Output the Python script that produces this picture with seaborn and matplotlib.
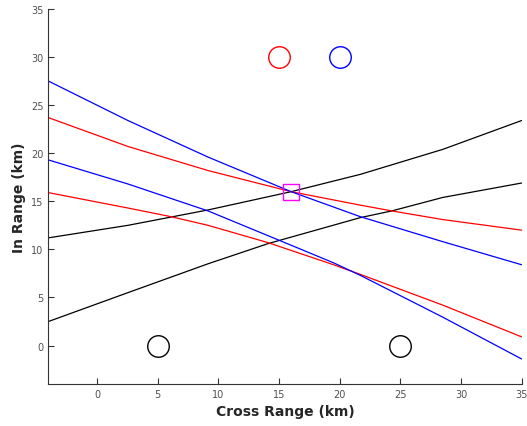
import matplotlib
matplotlib.use("Agg")
import matplotlib.pyplot as plt
import seaborn as sns
import pandas as pd

# Curves (x in km, y in km)
black_up_x = [-4, 2.55, 9.15, 16.0, 21.7, 28.5, 35]
black_up_y = [11.2, 12.5, 14.1, 16.0, 17.8, 20.4, 23.4]
black_lo_x = [-4, 2.55, 9.15, 14.1, 21.7, 24.3, 28.5, 35]
black_lo_y = [2.5, 5.5, 8.5, 10.6, 13.3, 14.0, 15.4, 16.9]
red_up_x = [-4, 2.55, 9.15, 16.0, 21.7, 24.3, 28.5, 35]
red_up_y = [23.7, 20.7, 18.2, 16.0, 14.6, 14.0, 13.1, 12.0]
red_lo_x = [-4, 2.55, 6.1, 9.15, 14.1, 19.5, 21.7, 28.5, 35]
red_lo_y = [15.9, 14.3, 13.4, 12.5, 10.7, 8.4, 7.4, 4.2, 0.9]
blue_up_x = [-4, 2.55, 9.15, 16.0, 21.7, 28.5, 35]
blue_up_y = [27.5, 23.4, 19.6, 16.0, 13.4, 10.8, 8.4]
blue_lo_x = [-4, 2.55, 9.15, 15.1, 19.5, 21.7, 28.5, 35]
blue_lo_y = [19.3, 16.8, 14.0, 10.9, 8.6, 7.3, 2.95, -1.4]

# Sensors and estimate
sensor_x = [5, 25, 15, 20]
sensor_y = [0, 0, 30, 30]
sensor_c = ["black", "black", "red", "blue"]
est_x = [16.0]
est_y = [16.0]

sns.set_style("ticks")
plt.rcParams["font.family"] = ["DejaVu Sans"]

fig = plt.figure(figsize=(5.27, 4.27), dpi=100)
ax = fig.add_axes([0.092, 0.0984, 0.8978, 0.8782])

curves = [
    (black_up_x, black_up_y, "black"),
    (black_lo_x, black_lo_y, "black"),
    (red_up_x, red_up_y, "red"),
    (red_lo_x, red_lo_y, "red"),
    (blue_up_x, blue_up_y, "blue"),
    (blue_lo_x, blue_lo_y, "blue"),
]
for xs, ys, c in curves:
    df = pd.DataFrame({"x": xs, "y": ys})
    sns.lineplot(data=df, x="x", y="y", color=c, linewidth=0.9, sort=False, ax=ax)

for sx, sy, c in zip(sensor_x, sensor_y, sensor_c):
    ax.plot([sx], [sy], marker="o", markersize=15.5, markerfacecolor="none",
            markeredgecolor=c, markeredgewidth=1.0, linestyle="none")

ax.plot(est_x, est_y, marker="s", markersize=12, markerfacecolor="none",
        markeredgecolor="magenta", markeredgewidth=1.0, linestyle="none")

ax.set_xlim(-4, 35)
ax.set_ylim(-4, 35)
ax.set_xticks([0, 5, 10, 15, 20, 25, 30, 35])
ax.set_yticks([0, 5, 10, 15, 20, 25, 30, 35])
ax.tick_params(direction="in", length=4, width=0.8, labelsize=7,
               labelcolor="#505050", color="#333333")
ax.set_xlabel("Cross Range (km)", fontsize=10, fontweight="bold", color="#262626")
ax.set_ylabel("In Range (km)", fontsize=10, fontweight="bold", color="#262626")
sns.despine(ax=ax)
for s in ["left", "bottom"]:
    ax.spines[s].set_color("#333333")
    ax.spines[s].set_linewidth(0.8)

fig.savefig("out.png", dpi=100)
